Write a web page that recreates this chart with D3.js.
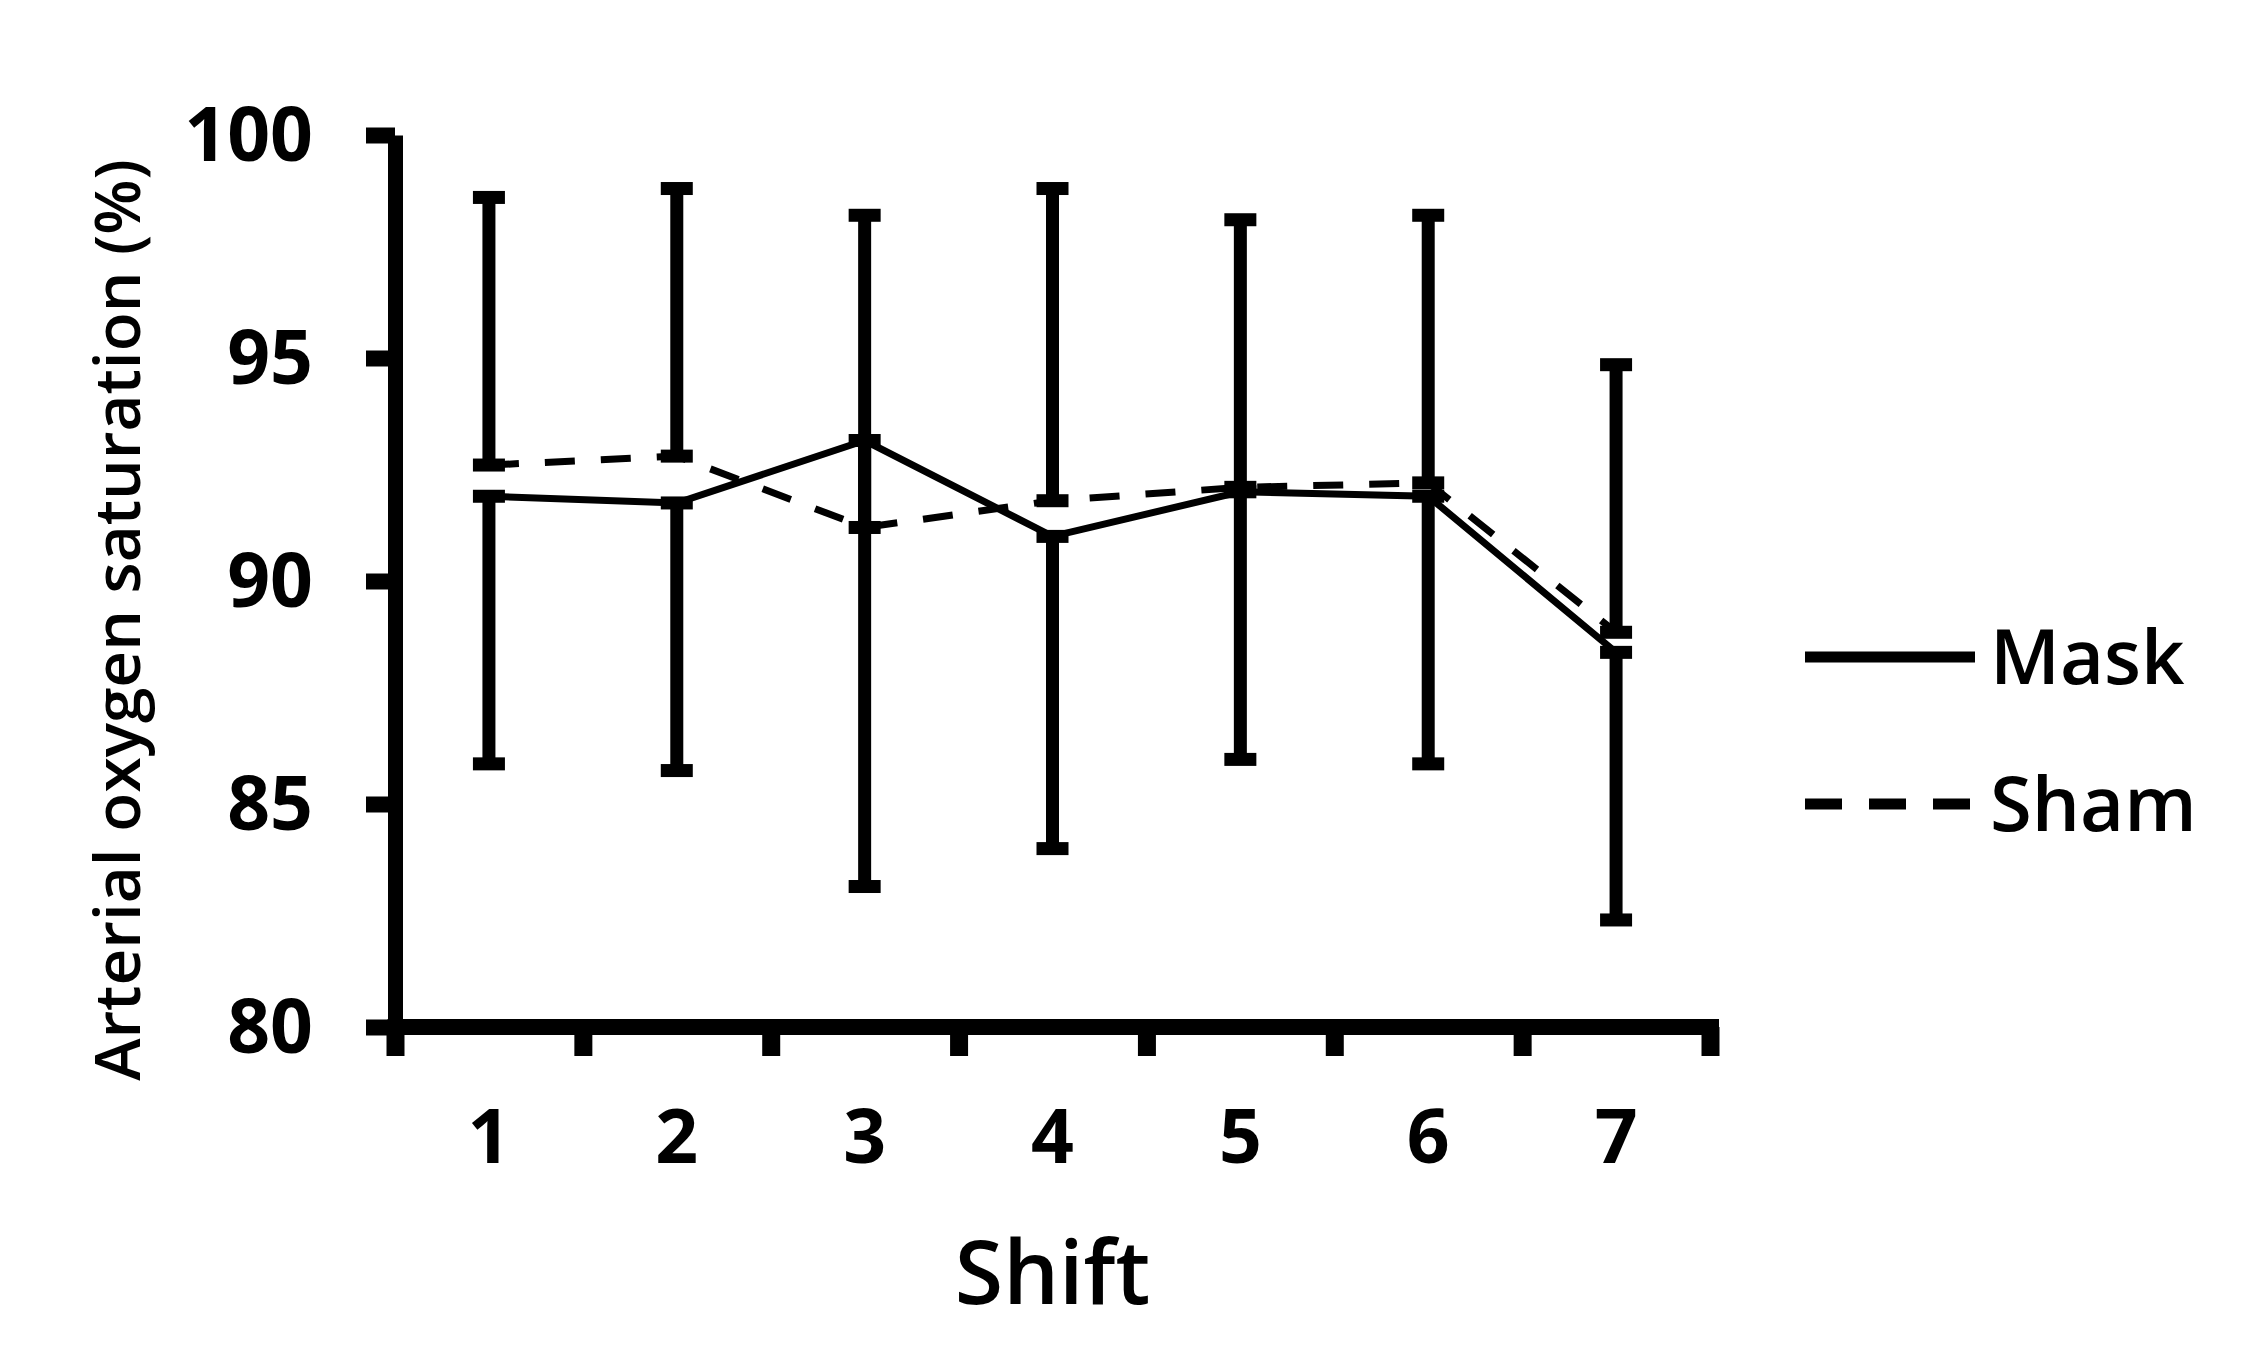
<!DOCTYPE html>
<html>
<head>
<meta charset="utf-8">
<script src="https://cdn.jsdelivr.net/npm/d3@7"></script>
<style>
  html, body { margin: 0; padding: 0; background: #fff; }
  svg { display: block; }
  text { font-family: "Open Sans", "Noto Sans", sans-serif; fill: #000; }
</style>
</head>
<body>
<svg id="chart" width="2260" height="1367"></svg>
<script>
// ---- data ----
const shifts   = ["1", "2", "3", "4", "5", "6", "7"];
const maskMean = [91.9, 91.75, 93.15, 91.0, 92.0, 91.9, 88.4];
const shamMean = [92.6, 92.8, 91.2, 91.8, 92.1, 92.2, 88.85];
const maskSD   = [6, 6, 10, 7, 6, 6, 6];   // drawn downward
const shamSD   = [6, 6, 7, 7, 6, 6, 6];    // drawn upward
const yTicks   = [80, 85, 90, 95, 100];
const seriesNames = ["Mask", "Sham"];
const yTitle = "Arterial oxygen saturation (%)";
const xTitle = "Shift";

// ---- layout ----
const svg = d3.select("#chart");
const x0 = 395, x1 = 1710, yTop = 135, yBot = 1027;
const x = d3.scaleBand().domain(shifts).range([x0, x1]);
const xb = d3.scaleLinear().domain([0, shifts.length]).range([x0, x1]);
const y = d3.scaleLinear().domain([80, 100]).range([yBot, yTop]);
const cx = d => x(d) + x.bandwidth() / 2;

const axisW = 15;

// y axis
const gy = svg.append("g").attr("transform", `translate(${x0},0)`)
  .call(d3.axisLeft(y).tickValues(yTicks).tickSize(29).tickSizeOuter(0).tickPadding(53).tickFormat(d3.format("d")));
gy.select(".domain").attr("stroke", "#000").attr("stroke-width", axisW);
gy.selectAll(".tick line").attr("stroke", "#000").attr("stroke-width", 16);
gy.selectAll(".tick text").attr("font-size", 75).attr("font-weight", 700)
  .attr("font-family", "'Open Sans', sans-serif").attr("dy", "0.34em");

// x axis (ticks at band boundaries)
const gx = svg.append("g").attr("transform", `translate(0,${yBot})`)
  .call(d3.axisBottom(xb).tickValues(d3.range(shifts.length + 1)).tickSize(29).tickSizeOuter(0).tickFormat(""));
gx.select(".domain").attr("stroke", "#000").attr("stroke-width", axisW + 1)
  .attr("d", `M${x0 - axisW/2},0H${x1 + 9}`);
gx.selectAll(".tick line").attr("stroke", "#000").attr("stroke-width", 18);

// x labels
const gxl = svg.append("g").attr("transform", `translate(0,${yBot})`)
  .call(d3.axisBottom(x).tickSize(0).tickPadding(83));
gxl.select(".domain").remove();
gxl.selectAll(".tick text").attr("font-size", 75).attr("font-weight", 700)
  .attr("font-family", "'Open Sans', sans-serif");

// titles
svg.append("text")
  .attr("x", (x0 + x1) / 2).attr("y", 1304)
  .attr("text-anchor", "middle").attr("font-size", 88).attr("font-weight", 600)
  .text(xTitle);
svg.append("text")
  .attr("transform", `translate(140,620) rotate(-90)`)
  .attr("text-anchor", "middle").attr("font-size", 64).attr("font-weight", 600)
  .text(yTitle);

// ---- lines ----
const line = d3.line().x(d => cx(d.s)).y(d => y(d.v));
const maskPts = shifts.map((s, i) => ({ s, v: maskMean[i] }));
const shamPts = shifts.map((s, i) => ({ s, v: shamMean[i] }));

svg.append("path").datum(shamPts).attr("d", line)
  .attr("fill", "none").attr("stroke", "#000").attr("stroke-width", 7)
  .attr("stroke-dasharray", "30,26");
svg.append("path").datum(maskPts).attr("d", line)
  .attr("fill", "none").attr("stroke", "#000").attr("stroke-width", 7);

// ---- error bars ----
const capW = 32, capH = 13, stemW = 13;
const eb = svg.append("g");
shifts.forEach((s, i) => {
  const xc = cx(s);
  // Sham upward
  const sTop = shamMean[i] + shamSD[i];
  eb.append("line").attr("x1", xc).attr("x2", xc)
    .attr("y1", y(shamMean[i])).attr("y2", y(sTop))
    .attr("stroke", "#000").attr("stroke-width", stemW);
  eb.append("rect").attr("x", xc - capW/2).attr("y", y(sTop) - capH/2)
    .attr("width", capW).attr("height", capH).attr("fill", "#000");
  // Mask downward
  const mBot = maskMean[i] - maskSD[i];
  eb.append("line").attr("x1", xc).attr("x2", xc)
    .attr("y1", y(maskMean[i])).attr("y2", y(mBot))
    .attr("stroke", "#000").attr("stroke-width", stemW);
  eb.append("rect").attr("x", xc - capW/2).attr("y", y(mBot) - capH/2)
    .attr("width", capW).attr("height", capH).attr("fill", "#000");
  // dash markers at means
  [maskMean[i], shamMean[i]].forEach(v => {
    eb.append("rect").attr("x", xc - capW/2).attr("y", y(v) - capH/2)
      .attr("width", capW).attr("height", capH).attr("fill", "#000");
  });
});

// ---- legend ----
const legY = [657, 804];
const leg = svg.append("g");
seriesNames.forEach((name, i) => {
  leg.append("line").attr("x1", 1805).attr("x2", 1975)
    .attr("y1", legY[i]).attr("y2", legY[i])
    .attr("stroke", "#000").attr("stroke-width", 11)
    .attr("stroke-dasharray", i === 1 ? "37,27" : null);
  leg.append("text").attr("x", 1990).attr("y", legY[i] + 27)
    .attr("font-size", 76).attr("font-weight", 600)
    .text(name);
});
</script>
</body>
</html>
